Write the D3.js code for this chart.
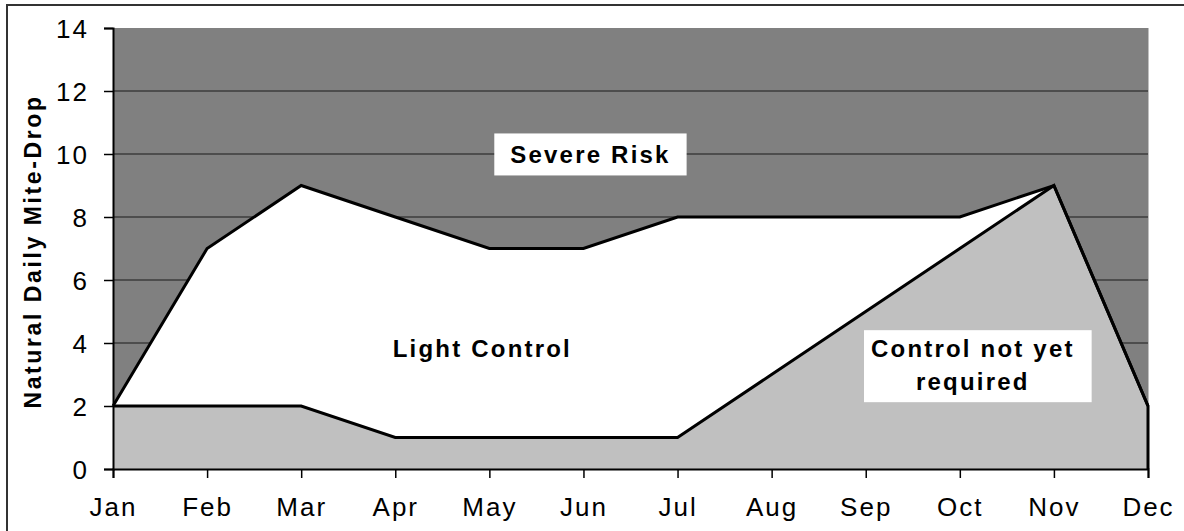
<!DOCTYPE html>
<html>
<head>
<meta charset="utf-8">
<script src="https://cdn.jsdelivr.net/npm/d3@7"></script>
<style>
  html, body { margin: 0; padding: 0; background: #fff; }
  svg { display: block; font-family: Arial, "Liberation Sans", sans-serif; }
</style>
</head>
<body>
<svg id="chart" width="1184" height="531"></svg>
<script>
const months = ["Jan","Feb","Mar","Apr","May","Jun","Jul","Aug","Sep","Oct","Nov","Dec"];
const notRequired = [2,2,2,1,1,1,1,3,5,7,9,2];      // "Control not yet required" upper bound
const lightControl = [2,7,9,8,7,7,8,8,8,8,9,2];     // "Light Control" upper bound
const severeTop = [14,14,14,14,14,14,14,14,14,14,14,14]; // "Severe Risk" fills to axis max
const yTicks = [0,2,4,6,8,10,12,14];
const yTitle = "Natural Daily Mite-Drop";
const labelText = [["Severe Risk"], ["Light Control"], ["Control not yet", "required"]];
const labelMonth = ["Jun", "May", "Oct"];
const labelValue = [9.7, 3.55, 3.55];

const svg = d3.select("#chart");
const L = 113, R = 1148, T = 28, B = 469;
const x = d3.scalePoint().domain(months).range([L, R]);
const y = d3.scaleLinear().domain([0, 14]).range([B, T]);

// label layout (offsets and box paddings: left, right, top, bottom)
const labelStyle = [
  { dx: 7, pad: [16, 16, 8, 7] },
  { dx: -7, pad: null },
  { dx: 13, pad: [7, 17, 5, 7] }
];

// outer frame
svg.append("rect").attr("x", 7).attr("y", 5).attr("width", 1200).attr("height", 600)
  .attr("fill", "none").attr("stroke", "#333").attr("stroke-width", 2);

const idx = d3.range(months.length);
const areaOf = arr => d3.area().x(i => x(months[i])).y0(y(0)).y1(i => y(arr[i]));
const lineOf = arr => d3.line().x(i => x(months[i])).y(i => y(arr[i]));

// severe risk (dark)
svg.append("path").attr("d", areaOf(severeTop)(idx)).attr("fill", "#808080");

// gridlines
svg.append("g").selectAll("line").data(yTicks.filter(t => t > 0 && t < 14)).join("line")
  .attr("x1", L).attr("x2", R).attr("y1", d => y(d)).attr("y2", d => y(d))
  .attr("stroke", "#1a1a1a").attr("stroke-width", 1);

// light control (white)
svg.append("path").attr("d", areaOf(lightControl)(idx)).attr("fill", "#fff");
// not yet required (light gray)
svg.append("path").attr("d", areaOf(notRequired)(idx)).attr("fill", "#c0c0c0");

// right edge of plot area
svg.append("line").attr("x1", R + 0.5).attr("x2", R + 0.5).attr("y1", T).attr("y2", y(notRequired[11]))
  .attr("stroke", "#c0c0c0").attr("stroke-width", 1);

// boundary lines
svg.append("path").attr("d", lineOf(lightControl)(idx))
  .attr("fill", "none").attr("stroke", "#000").attr("stroke-width", 3).attr("stroke-linejoin", "miter");
svg.append("path").attr("d", lineOf(notRequired)(idx) + `L${x("Dec")},${y(0)}`)
  .attr("fill", "none").attr("stroke", "#000").attr("stroke-width", 3).attr("stroke-linejoin", "miter");

// axes
const yAxis = svg.append("g").attr("transform", `translate(${L},0)`)
  .call(d3.axisLeft(y).tickValues(yTicks).tickSize(9).tickPadding(15).tickFormat(d3.format("d")));
const xAxis = svg.append("g").attr("transform", `translate(0,${B})`)
  .call(d3.axisBottom(x).tickSize(9).tickPadding(20));
[yAxis, xAxis].forEach(g => {
  g.attr("font-size", 26).attr("font-family", "Arial, 'Liberation Sans', sans-serif");
  g.select(".domain").attr("stroke", "#000").attr("stroke-width", 2);
  g.selectAll(".tick line").attr("stroke", "#000").attr("stroke-width", 1.5);
  g.selectAll(".tick text").attr("fill", "#000").style("letter-spacing", "2px");
});
yAxis.selectAll(".tick text").attr("dy", "0.36em");
xAxis.selectAll(".tick text").attr("dy", "0.71em");

// y title
svg.append("text").attr("transform", `translate(41,${(93 + 410) / 2}) rotate(-90)`)
  .attr("text-anchor", "middle").attr("font-size", 23).attr("font-weight", "bold")
  .style("letter-spacing", "2.6px").text(yTitle);

// region labels
labelText.forEach((lines, k) => {
  const st = labelStyle[k];
  const g = svg.append("g");
  const cx = x(labelMonth[k]) + st.dx;
  const t = g.append("text").attr("text-anchor", "middle").attr("font-size", 24)
    .attr("font-weight", "bold").style("letter-spacing", "2.2px");
  lines.forEach((s, i) => {
    t.append("tspan").attr("x", cx).attr("y", y(labelValue[k]) + i * 33).text(s);
  });
  if (st.pad) {
    const bb = t.node().getBBox();
    const [pl, pr, pt, pb] = st.pad;
    g.insert("rect", "text").attr("x", bb.x - pl).attr("y", bb.y - pt)
      .attr("width", bb.width + pl + pr).attr("height", bb.height + pt + pb).attr("fill", "#fff");
  }
});
</script>
</body>
</html>
